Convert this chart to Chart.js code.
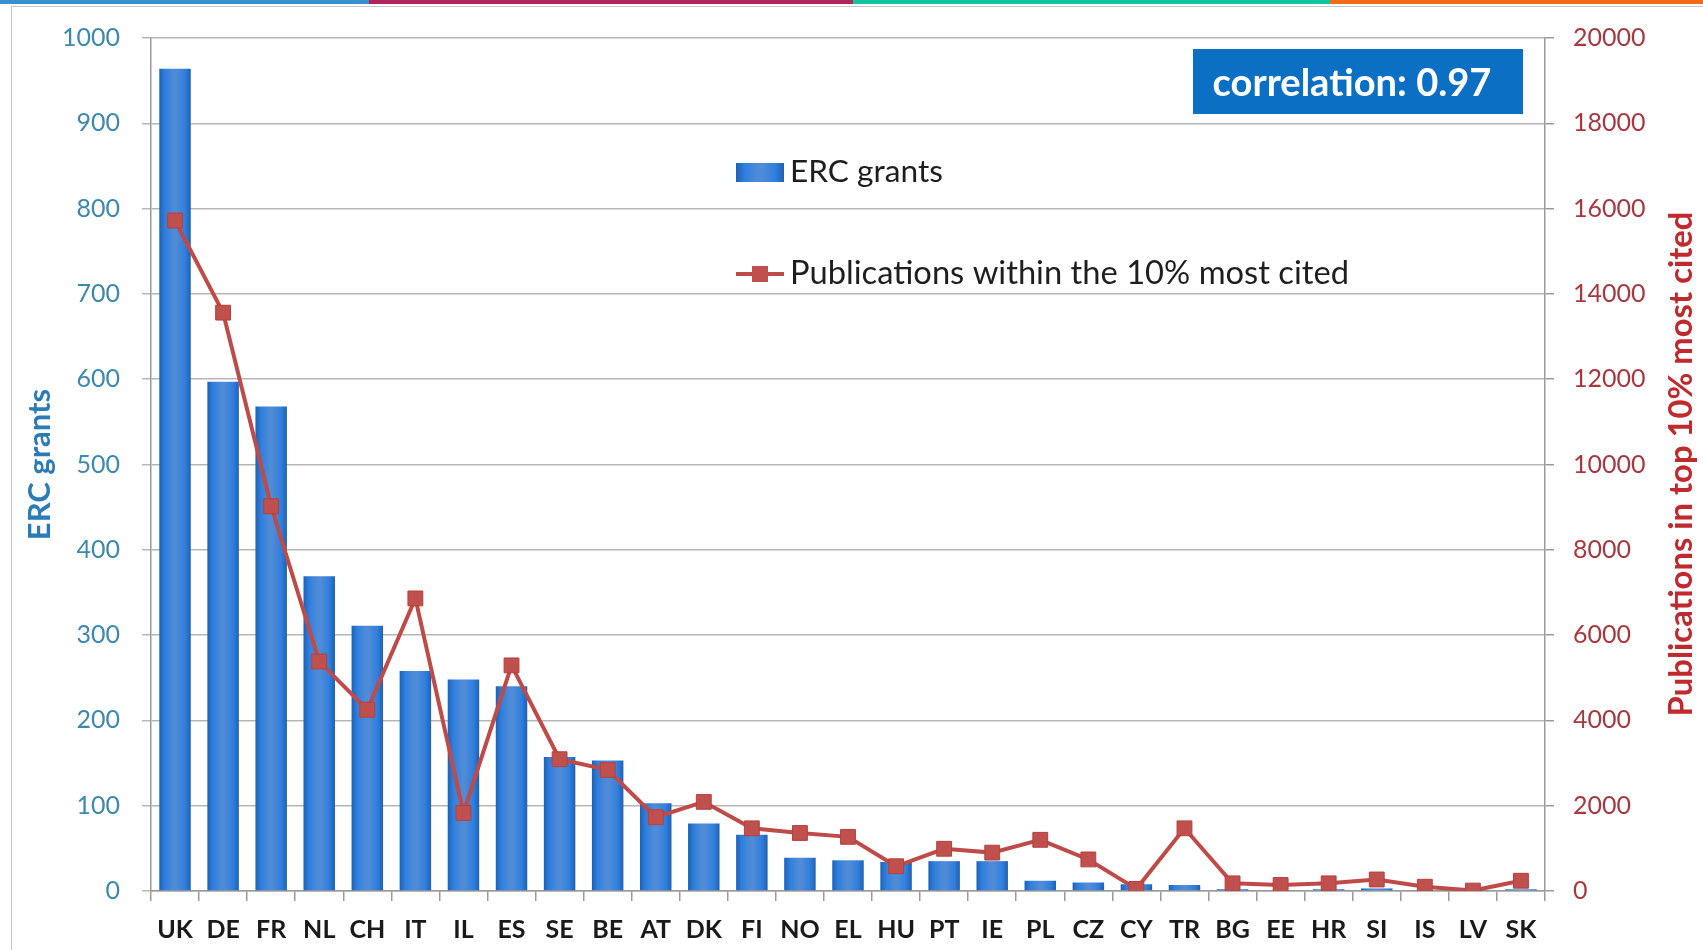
<!DOCTYPE html>
<html><head><meta charset="utf-8">
<script src="https://cdn.jsdelivr.net/npm/chart.js@4.4.1/dist/chart.umd.min.js"></script>
<style>
html,body{margin:0;padding:0;background:#fff;overflow:hidden;}
#wrap{position:relative;width:1703px;height:950px;}
canvas{position:absolute;left:0;top:0;}
.strip{position:absolute;top:0;height:4px;}
#frame{position:absolute;left:11px;top:6px;width:1692px;height:944px;border-left:1px solid #c4c4c4;border-top:1px solid #c8c8c8;}
</style></head><body>
<div id="wrap">
<div class="strip" style="left:0;width:369px;background:#3a8fd0"></div>
<div class="strip" style="left:369px;width:484px;background:#b0245e"></div>
<div class="strip" style="left:853px;width:477px;background:#13c49f"></div>
<div class="strip" style="left:1330px;width:373px;background:#f36b14"></div>
<div id="frame"></div>
<canvas id="c" width="1703" height="950"></canvas>
</div>
<script>
const categories = ['UK','DE','FR','NL','CH','IT','IL','ES','SE','BE','AT','DK','FI','NO','EL','HU','PT','IE','PL','CZ','CY','TR','BG','EE','HR','SI','IS','LV','SK'];
const ercGrants = [964,597,568,369,311,258,248,240,157,153,103,79,66,39,36,34,35,35,12,10,8,7,2,1,2,3,1,1,2];
const publications = [15720,13560,9020,5380,4250,6860,1830,5290,3090,2840,1730,2090,1470,1360,1270,580,990,900,1200,740,50,1470,180,140,180,270,100,10,240];
const leftTickRange = [0, 1000, 100];
const rightTickRange = [0, 20000, 2000];
const legendLabels = ['ERC grants', 'Publications within the 10% most cited'];
const leftTitle = 'ERC grants';
const rightTitle = 'Publications in top 10% most cited';
const corrLabel = 'correlation: 0.97';

Chart.defaults.font.family = 'Lato';

function barGradient(ctx, x0, x1) {
  const g = ctx.createLinearGradient(x0, 0, x1, 0);
  g.addColorStop(0, '#1f61b2');
  g.addColorStop(0.18, '#2f7fdf');
  g.addColorStop(0.45, '#4f8bd6');
  g.addColorStop(0.55, '#4f8bd6');
  g.addColorStop(0.82, '#2f7fdf');
  g.addColorStop(1, '#1f61b2');
  return g;
}

function fitSize(ctx, text, weight, target) {
  ctx.font = weight + ' 100px Lato';
  return 100 * target / ctx.measureText(text).width;
}

const overlay = {
  id: 'overlay',
  afterDraw(chart) {
    const ctx = chart.ctx;
    ctx.save();
    // correlation box
    ctx.fillStyle = '#0b6fc4';
    ctx.fillRect(1193, 49, 330, 65);
    let s = fitSize(ctx, corrLabel, 'bold', 279);
    ctx.font = 'bold ' + s + 'px Lato';
    ctx.fillStyle = '#ffffff';
    ctx.textAlign = 'center';
    ctx.textBaseline = 'middle';
    ctx.fillText(corrLabel, 1352, 84);
    // legend row 1
    ctx.fillStyle = barGradient(ctx, 736, 784);
    ctx.fillRect(736, 163, 48, 19);
    ctx.textAlign = 'left';
    ctx.fillStyle = '#1e1e1e';
    s = fitSize(ctx, legendLabels[0], 'normal', 153);
    ctx.font = 'normal ' + s + 'px Lato';
    ctx.fillText(legendLabels[0], 790, 172);
    // legend row 2
    ctx.strokeStyle = '#be4b48';
    ctx.lineWidth = 4;
    ctx.beginPath(); ctx.moveTo(736, 274); ctx.lineTo(784, 274); ctx.stroke();
    ctx.fillStyle = '#c0504d';
    ctx.fillRect(752, 266, 16, 16);
    ctx.fillStyle = '#1e1e1e';
    s = fitSize(ctx, legendLabels[1], 'normal', 559);
    ctx.font = 'normal ' + s + 'px Lato';
    ctx.fillText(legendLabels[1], 790, 273);
    // right axis title
    ctx.translate(1681, 464);
    ctx.rotate(-Math.PI / 2);
    s = fitSize(ctx, rightTitle, 'bold', 505);
    ctx.font = 'bold ' + s + 'px Lato';
    ctx.fillStyle = '#bf2a2f';
    ctx.textAlign = 'center';
    ctx.fillText(rightTitle, 0, 0);
    ctx.restore();
  }
};

new Chart(document.getElementById('c'), {
  type: 'bar',
  data: {
    labels: categories,
    datasets: [
      {
        type: 'line', label: legendLabels[1], data: publications, yAxisID: 'y1',
        borderColor: '#be4b48', borderWidth: 4, tension: 0,
        pointStyle: 'rect', pointRadius: 10.5, pointBackgroundColor: '#c0504d',
        pointBorderColor: '#b5413e', pointBorderWidth: 1, order: 0
      },
      {
        type: 'bar', label: legendLabels[0], data: ercGrants, yAxisID: 'y',
        barPercentage: 0.655, categoryPercentage: 1, order: 1,
        backgroundColor: function (c) {
          const ch = c.chart;
          if (!ch.chartArea || !ch.scales.x) return '#2f78d2';
          const xs = ch.scales.x;
          const cx = xs.getPixelForValue(c.dataIndex);
          const w = xs.width / categories.length * 0.655;
          return barGradient(ch.ctx, cx - w / 2, cx + w / 2);
        }
      }
    ]
  },
  options: {
    responsive: false, animation: false, devicePixelRatio: 1,
    layout: { padding: { top: 38, left: 0, right: 0, bottom: 0 } },
    plugins: { legend: { display: false }, tooltip: { enabled: false } },
    scales: {
      x: {
        grid: { display: true, drawOnChartArea: false, drawTicks: true, tickLength: 10, color: '#9a9a9a', lineWidth: 1.5, offset: true },
        border: { color: '#9a9a9a', width: 1.5 },
        ticks: { font: { size: 25, weight: 'bold' }, color: '#1a1a1a', padding: 14, maxRotation: 0, autoSkip: false },
        afterFit: s => { s.height = 59; }
      },
      y: {
        position: 'left', min: leftTickRange[0], max: leftTickRange[1],
        ticks: { stepSize: leftTickRange[2], font: { size: 25 }, color: '#3b88b0', padding: 22, callback: v => String(v) },
        grid: { color: '#b6b6b6', lineWidth: 1.5, tickLength: 9 },
        border: { color: '#9a9a9a', width: 1.5 },
        title: { display: true, text: leftTitle, color: '#2b7bb9', font: { size: 31, weight: 'bold' }, padding: { top: 21, bottom: 0 } },
        afterFit: s => { s.width = 151; }
      },
      y1: {
        position: 'right', min: rightTickRange[0], max: rightTickRange[1],
        ticks: { stepSize: rightTickRange[2], font: { size: 25 }, color: '#a8383f', padding: 19, callback: v => String(v) },
        grid: { drawOnChartArea: false, color: '#9a9a9a', lineWidth: 1.5, tickLength: 9 },
        border: { color: '#9a9a9a', width: 1.5 },
        afterFit: s => { s.width = 158; }
      }
    }
  },
  plugins: [overlay]
});
</script>
</body></html>
